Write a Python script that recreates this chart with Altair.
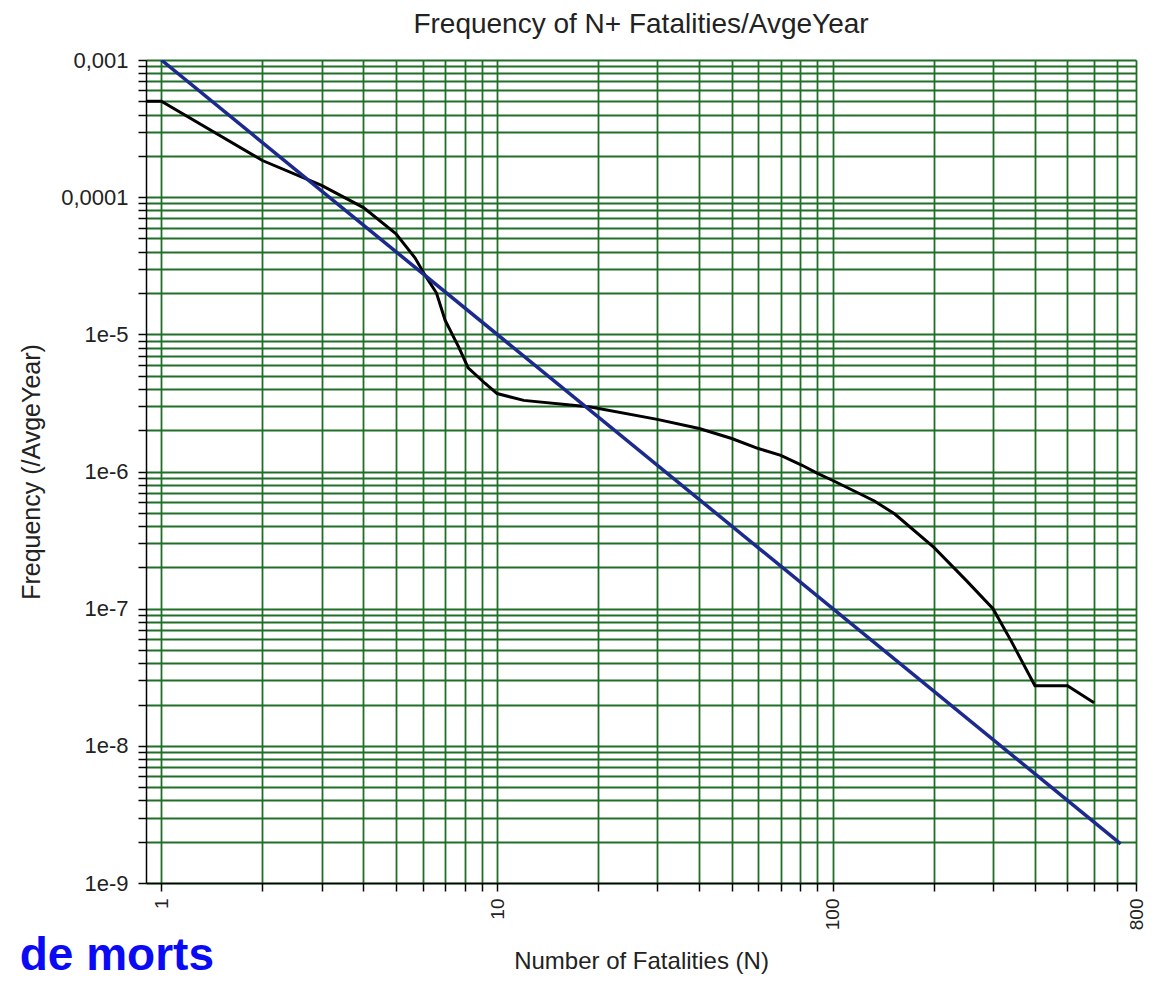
import altair as alt
import pandas as pd

# Black curve: observed F-N curve
black_n = [0.9, 1, 2, 3, 4, 5, 5.7, 6.1, 6.6, 7, 7.7, 8.2, 9.2, 10, 12, 19, 30, 40, 50,
           60, 70, 81, 90, 100, 133, 153, 200, 250, 300, 340, 400, 500, 600]
black_f = [5.0e-4, 5.0e-4, 1.85e-4, 1.22e-4, 8.4e-5, 5.4e-5, 3.6e-5, 2.7e-5, 2.0e-5, 1.27e-5,
           8.0e-6, 5.7e-6, 4.4e-6, 3.7e-6, 3.3e-6, 2.95e-6, 2.4e-6, 2.06e-6, 1.74e-6,
           1.47e-6, 1.31e-6, 1.11e-6, 9.7e-7, 8.6e-7, 6.1e-7, 4.9e-7, 2.8e-7, 1.6e-7,
           1.0e-7, 5.8e-8, 2.74e-8, 2.74e-8, 2.06e-8]

# Blue criterion line
blue_n = [1, 720]
blue_f = [1.0e-3, 1.93e-9]

# Axis ticks
x_ticks = [m * 10 ** k for k in range(0, 3) for m in range(1, 10)]
x_ticks = [v for v in x_ticks if v < 800] + [800]
y_ticks = [m * 10.0 ** k for k in range(-9, -3) for m in range(1, 10)] + [1e-3]

black_df = pd.DataFrame({"N": black_n, "F": black_f, "o": list(range(len(black_n)))})
blue_df = pd.DataFrame({"N": blue_n, "F": blue_f, "o": list(range(len(blue_n)))})

FONT = "Liberation Sans"
GRID = "#1f6f26"

x_scale = alt.Scale(type="log", domain=[0.9, 800], nice=False)
y_scale = alt.Scale(type="log", domain=[1e-9, 1e-3], nice=False)

x_axis = alt.Axis(
    title="Number of Fatalities (N)",
    values=x_ticks,
    labelExpr="indexof([1,10,100,800], datum.value) >= 0 ? format(datum.value, 'd') : ''",
    labelAngle=270, labelAlign="right", labelBaseline="middle",
    labelFontSize=19, labelPadding=7, labelColor="#222222", labelFont=FONT,
    labelOverlap=False, labelFlush=False,
    titleFontSize=24, titleFont=FONT, titleFontWeight="normal", titleColor="#222222",
    titlePadding=20,
    grid=True, gridColor=GRID, gridWidth=1.8, gridOpacity=1,
    domainColor="black", domainWidth=1.5,
    ticks=True, tickColor="black", tickSize=8, tickWidth=1.5,
)

y_axis = alt.Axis(
    title="Frequency (/AvgeYear)",
    values=y_ticks,
    labelExpr=("abs(log(datum.value)/LN10 - round(log(datum.value)/LN10)) < 0.001 ? "
               "(round(log(datum.value)/LN10) == -3 ? '0,001' : "
               "(round(log(datum.value)/LN10) == -4 ? '0,0001' : "
               "'1e' + round(log(datum.value)/LN10))) : ''"),
    labelFontSize=22, labelPadding=10, labelColor="#222222", labelFont=FONT,
    labelOverlap=False, labelFlush=False, labelBaseline="middle",
    titleFontSize=25, titleFont=FONT, titleFontWeight="normal", titleColor="#222222",
    titlePadding=16,
    grid=True, gridColor=GRID, gridWidth=1.8, gridOpacity=1,
    domainColor="black", domainWidth=1.5,
    ticks=True, tickColor="black", tickSize=8, tickWidth=1.5,
)

black_line = alt.Chart(black_df).mark_line(color="#000000", strokeWidth=3, clip=True).encode(
    x=alt.X("N:Q", scale=x_scale, axis=x_axis),
    y=alt.Y("F:Q", scale=y_scale, axis=y_axis),
    order="o:Q",
)

blue_line = alt.Chart(blue_df).mark_line(color="#1c2a8e", strokeWidth=3.5, clip=True).encode(
    x=alt.X("N:Q", scale=x_scale),
    y=alt.Y("F:Q", scale=y_scale),
    order="o:Q",
)

note = alt.Chart(pd.DataFrame({"t": ["de morts"]})).mark_text(
    font=FONT, fontSize=46, fontWeight="bold", color="#0a0af5",
    align="right", baseline="alphabetic",
).encode(text="t:N", x=alt.value(68), y=alt.value(910))

chart = alt.layer(black_line, blue_line, note).properties(
    width=990,
    height=823,
    title=alt.TitleParams(
        "Frequency of N+ Fatalities/AvgeYear",
        fontSize=28, font=FONT, fontWeight="normal", color="#222222",
        anchor="middle", offset=10,
    ),
    autosize=alt.AutoSizeParams(type="none"),
    padding={"left": 138, "top": 52, "right": 11, "bottom": 98},
).configure_view(
    stroke="black", strokeWidth=1.5
).configure(background="white")

chart.save("out.html", embed_options={"renderer": "svg", "actions": False})
